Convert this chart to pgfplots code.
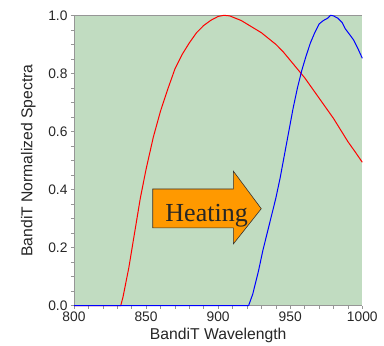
\documentclass[border=0pt]{standalone}
\usepackage{pgfplots}
\pgfplotsset{compat=1.18}
\usepackage{fontspec}
\setmainfont{Liberation Sans}
\newfontfamily\serifheat{Liberation Serif}
\definecolor{bgg}{RGB}{193,220,193}
\definecolor{arroworange}{RGB}{255,153,0}
\definecolor{ticg}{RGB}{150,150,150}
\begin{document}
\begin{tikzpicture}
\begin{axis}[
  scale only axis,
  width=288.3pt, height=290.4pt,
  xmin=800, xmax=1000, ymin=0, ymax=1,
  xtick={800,850,900,950,1000},
  ytick={0,0.2,0.4,0.6,0.8,1.0},
  minor x tick num=4,
  minor y tick num=3,
  xtick pos=bottom, ytick pos=left,
  tick align=outside,
  major tick length=3pt, minor tick length=3pt,
  tick style={color=ticg, line width=0.6pt},
  axis line style={draw=none},
  axis background/.style={fill=bgg},
  /pgf/number format/assume math mode=true,
  yticklabel style={/pgf/number format/fixed, /pgf/number format/fixed zerofill, /pgf/number format/precision=1},
  xticklabel style={/pgf/number format/1000 sep={}},
  ticklabel style={font=\fontsize{13.8}{15}\selectfont, text=black!85},
  xlabel={BandiT Wavelength},
  ylabel={BandiT Normalized Spectra},
  label style={font=\fontsize{15.7}{17}\selectfont, text=black!85},
  xlabel style={at={(axis description cs:0.5,-0.104)}, anchor=center},
  ylabel style={at={(axis description cs:-0.1585,0.5)}, anchor=center, rotate=0},
  clip=false,
]
\draw[ticg, line width=0.8pt] (rel axis cs:0,0) -- (rel axis cs:0,1) -- (rel axis cs:1,1);
\draw[ticg, line width=0.6pt] (rel axis cs:0,0) -- (rel axis cs:1,0);
\addplot[red, line width=1pt] coordinates {
(800,0) (832.4,0) (834,0.03) (836,0.08) (838,0.13) (840,0.19) (843,0.28) (846,0.37)
(850,0.47) (855,0.58) (860,0.67) (865,0.745) (870,0.815) (875,0.865) (880,0.905)
(885,0.94) (890,0.965) (895,0.983) (900,0.996) (904,1.0) (908,0.998) (912,0.99)
(916,0.982) (920,0.97) (925,0.955) (930,0.94) (935,0.92) (940,0.90) (945,0.875) (950,0.845)
(955,0.815) (960,0.785) (965,0.75) (970,0.715) (975,0.68) (980,0.645) (985,0.605)
(990,0.565) (995,0.53) (1000,0.494)
};
\addplot[blue, line width=1pt] coordinates {
(800,0) (921.1,0) (924,0.04) (926,0.08) (928,0.12) (931,0.19) (934,0.25) (937,0.31)
(940,0.37) (943,0.44) (946,0.52) (949,0.60) (952,0.68) (955,0.75) (958,0.81)
(961,0.86) (964,0.905) (967,0.94) (970,0.97) (973,0.982) (976,0.99) (978,1.0)
(980,0.998) (983,0.99) (986,0.975) (988,0.955) (991,0.935) (994,0.915) (997,0.885)
(1000,0.852)
};
\filldraw[fill=arroworange, draw=black!80, line width=0.6pt]
  (axis cs:854.6,0.268) -- (axis cs:910.6,0.268) -- (axis cs:910.6,0.213)
  -- (axis cs:929.9,0.334) -- (axis cs:910.6,0.463) -- (axis cs:910.6,0.402)
  -- (axis cs:854.6,0.402) -- cycle;
\node[anchor=base west, inner sep=0pt, font=\serifheat\fontsize{26}{28}\selectfont, text=black!85]
  at (axis cs:863.3,0.289) {Heating};
\end{axis}
\pgfresetboundingbox
\path ([xshift=-74pt,yshift=-39.3pt]current axis.south west) rectangle ([xshift=21.7pt,yshift=15.3pt]current axis.north east);
\end{tikzpicture}
\end{document}
